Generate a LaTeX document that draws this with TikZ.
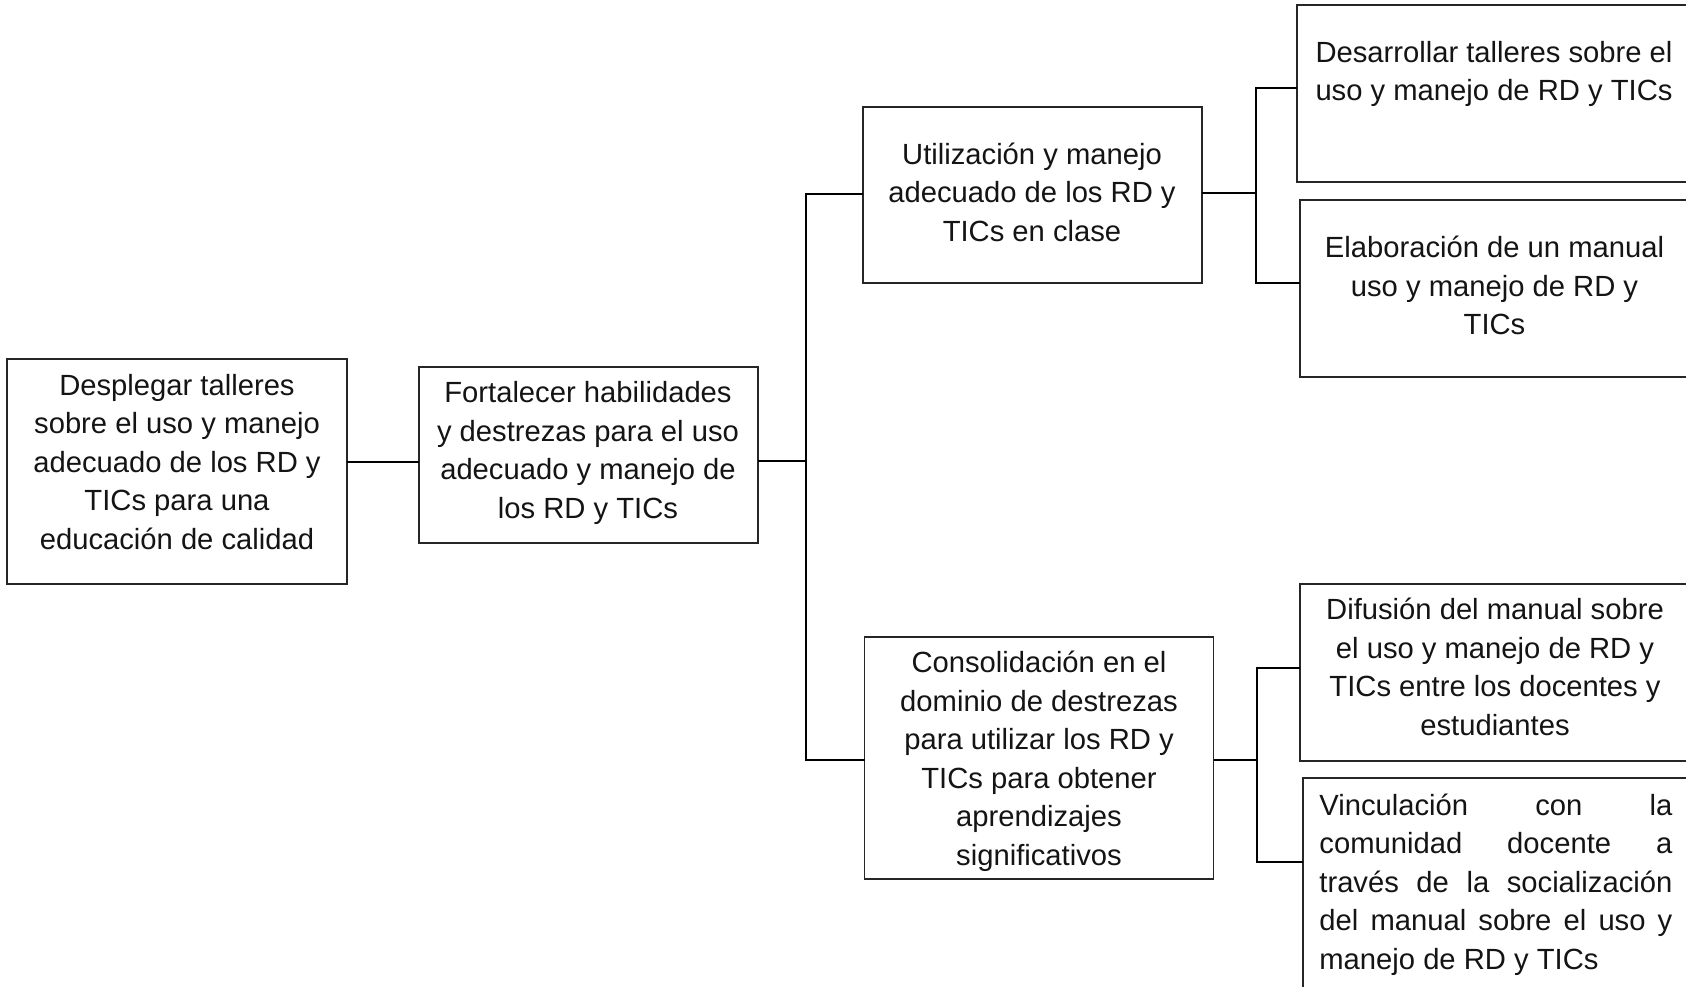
\documentclass[tikz,border=0pt]{standalone}
\usepackage{fontspec}
\setmainfont{Liberation Sans}
\begin{document}
\begin{tikzpicture}[x=0.5pt,y=-0.5pt,
  box/.style={draw=black!85, line width=0.75pt, inner sep=0pt, outer sep=0pt},
  txt/.style={align=center, inner sep=0pt, anchor=north, text=black!92,
    font=\fontsize{14.6}{19.25}\selectfont},
  link/.style={draw=black, line width=0.75pt}]
\clip (0,0) rectangle (1686,986);
\fill[white] (0,0) rectangle (1686,986);

% boxes
\node[box, minimum width=170pt,   minimum height=112.5pt] (A) at (177,471.5) {};
\node[box, minimum width=169.5pt, minimum height=88pt]    (B) at (588.5,455) {};
\node[box, minimum width=169.5pt, minimum height=88pt]    (C) at (1032.5,195) {};
\node[box, minimum width=200pt,   minimum height=88.5pt]  (D) at (1497,93.5) {};
\node[box, minimum width=200pt,   minimum height=88.5pt]  (E) at (1500,288.5) {};
\node[box, minimum width=174.5pt, minimum height=121pt]   (F) at (1039,758) {};
\node[box, minimum width=200pt,   minimum height=88.5pt]  (G) at (1500,672.5) {};
\node[box, minimum width=198.5pt, minimum height=122pt]   (H) at (1501.5,900) {};

% texts
\node[txt] (tA) at (177,373.5) {Desplegar talleres\\sobre el uso y manejo\\adecuado de los RD y\\TICs para una\\educación de calidad};
\node[txt] (tB) at (588,381) {Fortalecer habilidades\\y destrezas para el uso\\adecuado y manejo de\\los RD y TICs};
\node[txt] (tC) at (1032,142.5) {Utilización y manejo\\adecuado de los RD y\\TICs en clase};
\node[txt] (tD) at (1494,40.5) {Desarrollar talleres sobre el\\uso y manejo de RD y TICs};
\node[txt] (tE) at (1494.5,236) {Elaboración de un manual\\uso y manejo de RD y\\TICs};
\node[txt] (tF) at (1039,651) {Consolidación en el\\dominio de destrezas\\para utilizar los RD y\\TICs para obtener\\aprendizajes\\significativos};
\node[txt] (tG) at (1495,598) {Difusión del manual sobre\\el uso y manejo de RD y\\TICs entre los docentes y\\estudiantes};
\node[txt, align=left, anchor=north west] (tH) at (1319,793.5) {%
\makebox[176.5pt][s]{Vinculación con la}\\
\makebox[176.5pt][s]{comunidad docente a}\\
\makebox[176.5pt][s]{través de la socialización}\\
\makebox[176.5pt][s]{del manual sobre el uso y}\\
manejo de RD y TICs};

% junction coordinates
\coordinate (yAB) at (0,462);
\coordinate (T) at (806,461);
\coordinate (yC) at (0,194);
\coordinate (yF) at (0,760);
\coordinate (U) at (1256,193);
\coordinate (yD) at (0,88);
\coordinate (yE) at (0,283);
\coordinate (V) at (1257,760);
\coordinate (yG) at (0,668);
\coordinate (yH) at (0,862);

% connectors
\draw[link] (A.east |- yAB) -- (B.west |- yAB);
\draw[link] (B.east |- T) -- (T);
\draw[link] (C.west |- yC) -| (T) |- (F.west |- yF);
\draw[link] (C.east |- U) -- (U);
\draw[link] (D.west |- yD) -| (U) |- (E.west |- yE);
\draw[link] (F.east |- V) -- (V);
\draw[link] (G.west |- yG) -| (V) |- (H.west |- yH);
\end{tikzpicture}
\end{document}
